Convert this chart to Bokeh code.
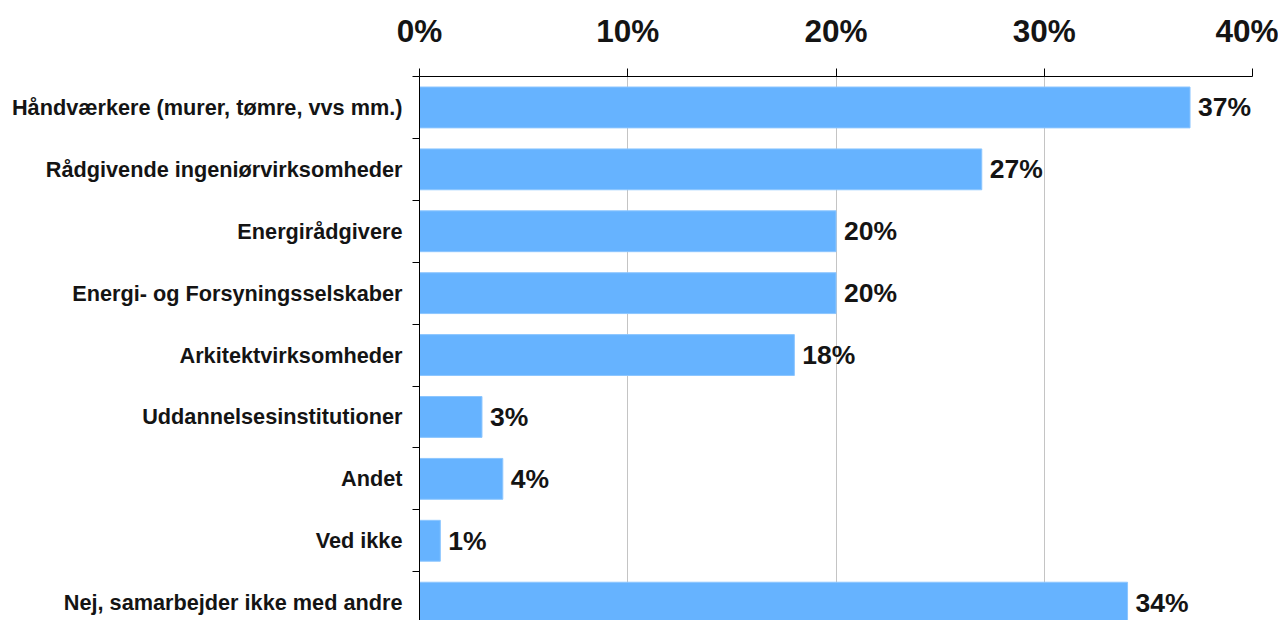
from bokeh.plotting import figure
from bokeh.models import Range1d, FixedTicker, NumeralTickFormatter, ColumnDataSource
from bokeh.core.properties import value
from bokeh.embed import file_html
from bokeh.resources import INLINE

categories = [
    "Håndværkere (murer, tømre, vvs mm.)",
    "Rådgivende ingeniørvirksomheder",
    "Energirådgivere",
    "Energi- og Forsyningsselskaber",
    "Arkitektvirksomheder",
    "Uddannelsesinstitutioner",
    "Andet",
    "Ved ikke",
    "Nej, samarbejder ikke med andre",
]
values_pct = [37, 27, 20, 20, 18, 3, 4, 1, 34]
x_ticks = [0, 0.1, 0.2, 0.3, 0.4]

idx = list(range(len(categories)))
src = ColumnDataSource(dict(
    y=idx,
    x=[v / 100 for v in values_pct],
    label=[f"{v}%" for v in values_pct],
))

FONT = "Liberation Sans"
TXT = "#141414"

p = figure(width=1278, height=620, output_backend="svg", toolbar_location=None,
           x_axis_location="above", x_range=Range1d(0, 0.40),
           y_range=Range1d(start=-0.5 + 544 / 61.9, end=-0.5),
           min_border_left=419, min_border_right=26, min_border_top=76, min_border_bottom=0)
p.outline_line_color = None
p.background_fill_color = "white"

p.hbar(y="y", right="x", left=0, height=0.66, source=src,
       fill_color="#66b3ff", line_color="#8cc6ff", line_width=1)
p.text(x="x", y="y", text="label", source=src, x_offset=8,
       text_baseline="middle", text_align="left",
       text_font=value(FONT), text_font_style="bold", text_font_size="26.5px",
       text_color=TXT)

xa = p.xaxis[0]
xa.ticker = FixedTicker(ticks=x_ticks)
xa.formatter = NumeralTickFormatter(format="0%")
xa.major_label_text_font = FONT
xa.major_label_text_font_style = "bold"
xa.major_label_text_font_size = "31.5px"
xa.major_label_text_color = TXT
xa.major_label_standoff = 20
xa.major_tick_out = 8
xa.major_tick_in = 0
xa.minor_tick_line_color = None
xa.axis_line_color = "black"
xa.major_tick_line_color = "black"

ya = p.yaxis[0]
ya.ticker = FixedTicker(ticks=idx, minor_ticks=[i - 0.5 for i in range(len(categories))])
ya.major_label_overrides = {i: c for i, c in zip(idx, categories)}
ya.major_label_text_font = FONT
ya.major_label_text_font_style = "bold"
ya.major_label_text_font_size = "21.7px"
ya.major_label_text_color = TXT
ya.major_label_standoff = 10
ya.major_tick_line_color = None
ya.minor_tick_line_color = "black"
ya.minor_tick_out = 7
ya.minor_tick_in = 0
ya.axis_line_color = "black"

p.xgrid.ticker = FixedTicker(ticks=x_ticks)
p.xgrid.grid_line_color = "#c4c4c4"
p.ygrid.grid_line_color = None

open("out.html", "w").write(file_html(p, INLINE))
